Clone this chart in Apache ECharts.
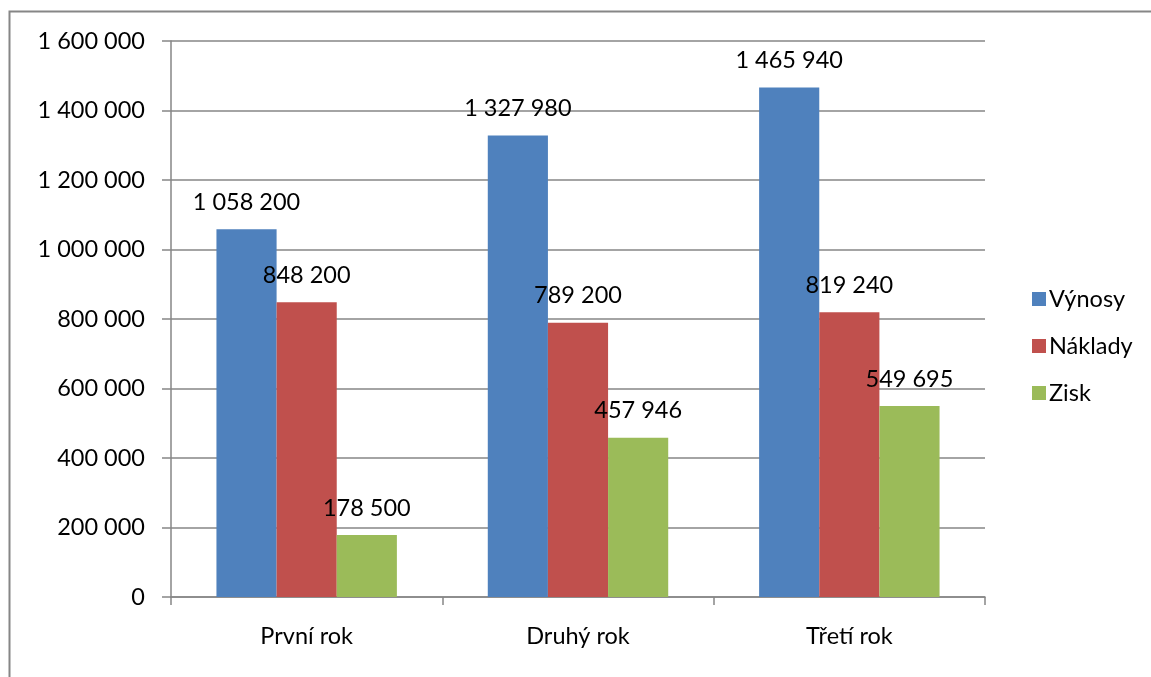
<!DOCTYPE html>
<html>
<head>
<meta charset="utf-8">
<script src="https://cdn.jsdelivr.net/npm/echarts@6/dist/echarts.min.js"></script>
<style>
  html, body { margin: 0; padding: 0; background: #fff; }
  #chart { width: 1151px; height: 677px; }
</style>
</head>
<body>
<div id="chart"></div>
<script>
const categories = ['První rok', 'Druhý rok', 'Třetí rok'];
const seriesNames = ['Výnosy', 'Náklady', 'Zisk'];
const vynosy = [1058200, 1327980, 1465940];
const naklady = [848200, 789200, 819240];
const zisk = [178500, 457946, 549695];
const colors = ['#4F81BD', '#C0504D', '#9BBB59'];

const FONT = 'Lato, "Open Sans", sans-serif';
const FS = 23.5;

// thousands separated by a space, e.g. 1 058 200
function fmt(v) {
  return String(v).replace(/\B(?=(\d{3})+(?!\d))/g, ' ');
}

function barSeries(name, data, color) {
  return {
    name: name,
    type: 'bar',
    data: data,
    barGap: '0%',
    barCategoryGap: '33.5%',
    itemStyle: { color: color },
    label: {
      show: true,
      position: 'top',
      distance: 15,
      color: '#000',
      fontFamily: FONT,
      fontSize: FS,
      formatter: p => fmt(p.value)
    }
  };
}

const chart = echarts.init(document.getElementById('chart'), null, { renderer: 'canvas' });
chart.setOption({
  animation: false,
  color: colors,
  graphic: [{
    type: 'rect',
    shape: { x: 9.5, y: 11.5, width: 1300, height: 800 },
    style: { fill: 'none', stroke: '#868686', lineWidth: 2 },
    silent: true
  }],
  grid: { left: 171, right: 166, top: 41, bottom: 80 },
  legend: {
    orient: 'vertical',
    left: 1027,
    top: 282,
    itemWidth: 14,
    itemHeight: 14,
    itemGap: 23,
    icon: 'rect',
    data: seriesNames,
    textStyle: { fontFamily: FONT, fontSize: FS, color: '#000', padding: [0, 0, 0, -2] }
  },
  xAxis: {
    type: 'category',
    data: categories,
    axisLine: { lineStyle: { color: '#868686', width: 1.5 } },
    axisTick: { show: true, length: 8, alignWithLabel: false, lineStyle: { color: '#868686', width: 1.5 } },
    axisLabel: { color: '#000', fontFamily: FONT, fontSize: FS, margin: 27 }
  },
  yAxis: {
    type: 'value',
    min: 0,
    max: 1600000,
    interval: 200000,
    axisLine: { show: true, lineStyle: { color: '#868686', width: 1.5 } },
    axisTick: { show: true, length: 9, lineStyle: { color: '#868686', width: 1.5 } },
    splitLine: { lineStyle: { color: '#868686', width: 1.5 } },
    axisLabel: { color: '#000', fontFamily: FONT, fontSize: FS, margin: 26, formatter: v => fmt(v) }
  },
  series: [
    barSeries(seriesNames[0], vynosy, colors[0]),
    barSeries(seriesNames[1], naklady, colors[1]),
    barSeries(seriesNames[2], zisk, colors[2])
  ]
});
</script>
</body>
</html>
